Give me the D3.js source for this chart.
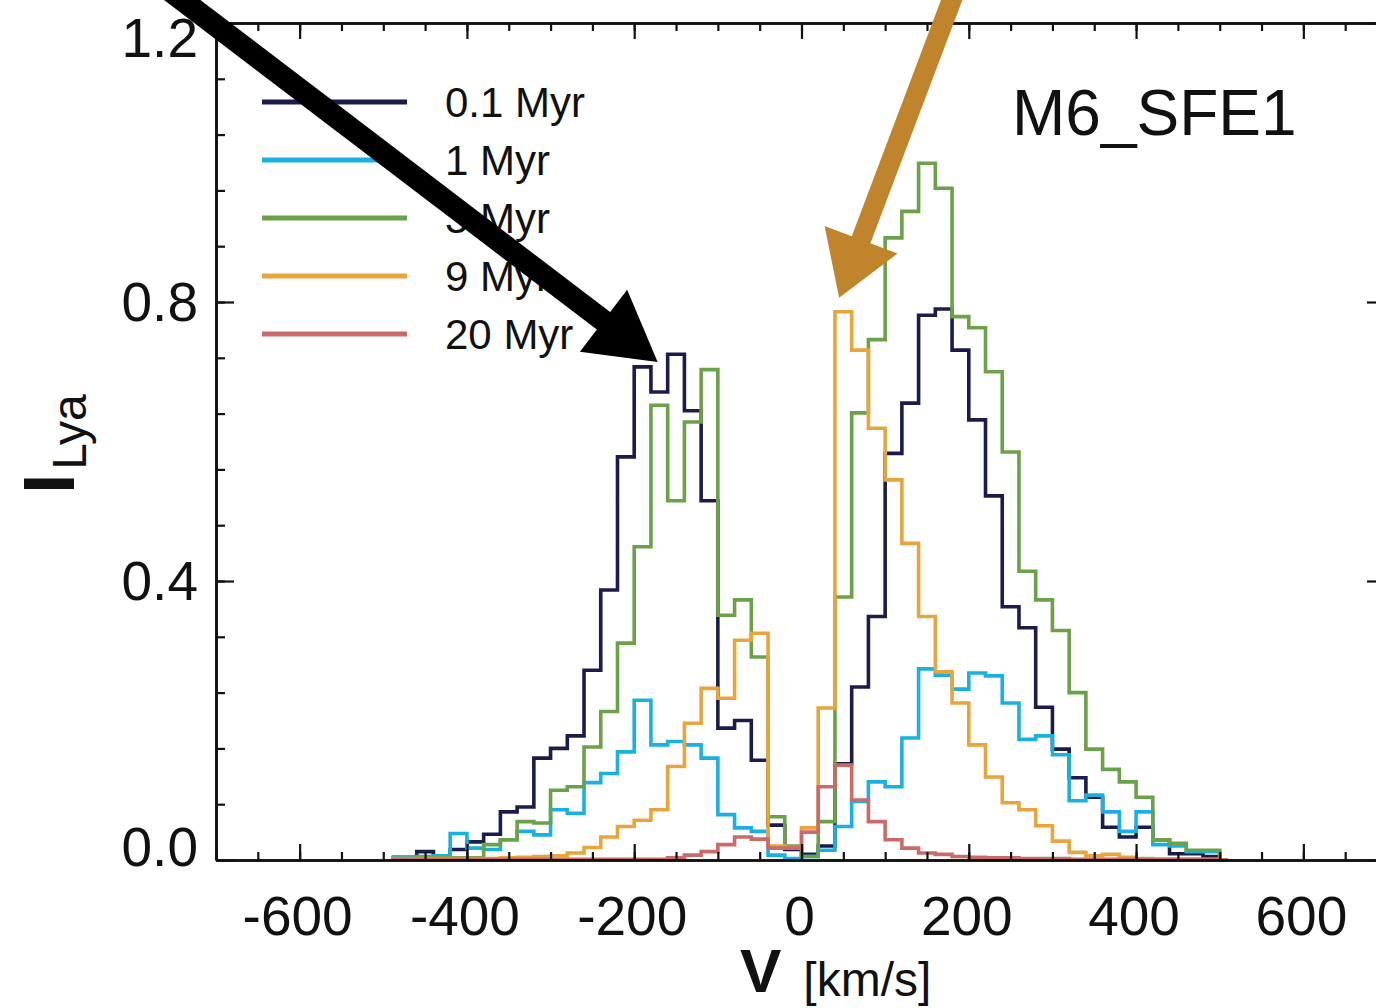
<!DOCTYPE html>
<html><head><meta charset="utf-8">
<script src="https://cdn.jsdelivr.net/npm/d3@7"></script>
<style>body{margin:0;background:#fff;overflow:hidden}</style>
</head><body><svg id="c" width="1376" height="1008"></svg>
<script>
// bin centres (km/s)
const velocity = [-490,-470,-450,-430,-410,-390,-370,-350,-330,-310,-290,-270,-250,-230,-210,-190,-170,-150,-130,-110,-90,-70,-50,-30,-10,10,30,50,70,90,110,130,150,170,190,210,230,250,270,290,310,330,350,370,390,410,430,450,470,490,510];
const i01Myr = [0.004,0.004,0.012,0.006,0.015,0.026,0.037,0.069,0.076,0.146,0.160,0.178,0.272,0.387,0.578,0.707,0.671,0.725,0.644,0.515,0.189,0.200,0.143,0.050,0.015,0.008,0.020,0.138,0.248,0.349,0.583,0.655,0.781,0.790,0.731,0.631,0.522,0.363,0.333,0.219,0.159,0.118,0.090,0.047,0.033,0.047,0.029,0.009,0.009,0.005,0.0];
const i1Myr  = [0.003,0.003,0.005,0.006,0.038,0.017,0.015,0.029,0.041,0.036,0.072,0.067,0.111,0.124,0.155,0.229,0.165,0.170,0.165,0.146,0.065,0.046,0.041,0.007,0.002,0.005,0.014,0.048,0.084,0.112,0.105,0.175,0.274,0.265,0.245,0.268,0.264,0.225,0.173,0.178,0.151,0.085,0.093,0.069,0.041,0.069,0.022,0.020,0.012,0.012,0.0];
const i3Myr  = [0.002,0.002,0.003,0.003,0.003,0.003,0.022,0.029,0.055,0.053,0.100,0.105,0.162,0.213,0.311,0.449,0.652,0.515,0.628,0.703,0.351,0.373,0.291,0.062,0.020,0.005,0.055,0.377,0.641,0.746,0.892,0.930,0.999,0.963,0.779,0.763,0.700,0.585,0.414,0.373,0.329,0.240,0.159,0.130,0.112,0.090,0.029,0.024,0.014,0.014,0.0];
const i9Myr  = [0.002,0.002,0.002,0.002,0.002,0.002,0.002,0.003,0.004,0.005,0.006,0.010,0.018,0.033,0.048,0.057,0.072,0.134,0.196,0.246,0.232,0.315,0.325,0.020,0.018,0.046,0.218,0.786,0.731,0.619,0.545,0.454,0.349,0.270,0.225,0.165,0.119,0.082,0.072,0.049,0.027,0.011,0.006,0.008,0.004,0.002,0.001,0.001,0.001,0.001,0.0];
const i20Myr = [0.001,0.001,0.001,0.001,0.001,0.001,0.001,0.001,0.001,0.001,0.001,0.001,0.001,0.001,0.001,0.001,0.001,0.003,0.007,0.012,0.022,0.033,0.030,0.017,0.017,0.040,0.105,0.136,0.086,0.055,0.029,0.017,0.010,0.008,0.005,0.004,0.003,0.003,0.002,0.002,0.002,0.001,0.001,0.001,0.001,0.001,0.001,0.001,0.001,0.001,0.0];
const seriesLabels = ["0.1 Myr","1 Myr","3 Myr","9 Myr","20 Myr"];
const seriesColors = ["#1c1c4c","#18b1e2","#6ba148","#e9a43c","#cc6a6a"];
const xMajorTicks = [-600,-400,-200,0,200,400,600];
const yMajorTicks = [0.0,0.4,0.8,1.2];
const panelLabel = "M6_SFE1";

const seriesValues = [i01Myr,i1Myr,i3Myr,i9Myr,i20Myr];
const svg = d3.select("#c");
const FONT = "'Liberation Sans', Arial, Helvetica, sans-serif";
const L = 216, R = 1387, T = 23, B = 860;
const x = d3.scaleLinear().domain([-700,700]).range([L,R]);
const y = d3.scaleLinear().domain([0,1.2]).range([B,T]);

// data lines
const line = d3.line().x(d=>x(d[0])).y(d=>y(d[1])).curve(d3.curveStep);
seriesValues.forEach((vals,i)=>{
  svg.append("path").datum(velocity.map((v,j)=>[v,vals[j]]))
    .attr("d",line).attr("fill","none").attr("stroke",seriesColors[i])
    .attr("stroke-width",3.6).attr("stroke-linejoin","miter");
});

// axes
function styleAxis(g){
  g.selectAll(".domain").attr("stroke","#111").attr("stroke-width",2.6);
  g.selectAll(".tick line").attr("stroke","#111").attr("stroke-width",2.2);
  g.selectAll("text").remove();
}
const xMinor = d3.range(-700,701,50), yMinor = d3.range(0,1.2001,0.08);
[[d3.axisBottom(x),`translate(0,${B})`,xMinor,-8],[d3.axisBottom(x),`translate(0,${B})`,xMajorTicks,-16],
 [d3.axisTop(x),`translate(0,${T})`,xMinor,-8],[d3.axisTop(x),`translate(0,${T})`,xMajorTicks,-16],
 [d3.axisLeft(y),`translate(${L},0)`,yMinor,-9],[d3.axisLeft(y),`translate(${L},0)`,yMajorTicks,-18],
 [d3.axisRight(y),`translate(${R},0)`,yMinor,-9],[d3.axisRight(y),`translate(${R},0)`,yMajorTicks,-20]
].forEach(([ax,tr,vals,sz])=>{
  const g = svg.append("g").attr("transform",tr).call(ax.tickValues(vals).tickSize(sz).tickSizeOuter(0));
  styleAxis(g);
});

// tick labels
svg.append("g").selectAll("text").data(xMajorTicks).join("text")
  .attr("x",d=>x(d)-2).attr("y",935).attr("text-anchor","middle")
  .attr("font-family",FONT).attr("font-size",55).attr("fill","#111")
  .text(d=>String(d));
svg.append("g").selectAll("text").data(yMajorTicks).join("text")
  .attr("x",198).attr("y",d=>y(d)+19 + (d===0?-13:0) + (d===1.2?15:0)).attr("text-anchor","end")
  .attr("font-family",FONT).attr("font-size",55).attr("fill","#111")
  .text(d=>d.toFixed(1));

// axis titles
const xt = svg.append("text").attr("x",740).attr("y",992).attr("text-anchor","start")
  .attr("font-family",FONT).attr("fill","#111");
xt.append("tspan").attr("font-size",62).attr("font-weight","bold").text("V");
xt.append("tspan").attr("font-size",48).attr("dx",22).attr("dy",4).text("[km/s]");
const yt = svg.append("text").attr("transform","translate(74,444) rotate(-90)")
  .attr("text-anchor","middle").attr("font-family",FONT).attr("fill","#111");
yt.append("tspan").attr("font-size",72).attr("font-weight","bold").text("I");
yt.append("tspan").attr("font-size",48).attr("dy",12).attr("dx",4).text("Lya");

// panel label
svg.append("text").attr("x",1012).attr("y",135).attr("font-family",FONT)
  .attr("font-size",64).attr("fill","#111").text(panelLabel);

// legend
const lg = svg.append("g");
seriesLabels.forEach((s,i)=>{
  const yy = 102 + i*58;
  lg.append("line").attr("x1",262).attr("x2",407).attr("y1",yy).attr("y2",yy)
    .attr("stroke",seriesColors[i]).attr("stroke-width",5);
  lg.append("text").attr("x",445).attr("y",yy+15).attr("font-family",FONT)
    .attr("font-size",42).attr("fill","#111").text(s);
});

// annotation arrows (defined in data space: tail -> tip)
const arrows = [
  {tail:[-770,1.26], tip:[-172,0.714], color:"#000", width:22, head:68, half:39},
  {tail:[184,1.247], tip:[45,0.806], color:"#c0852c", width:20, head:62, half:39}
];
arrows.forEach(a=>{
  const tx=x(a.tail[0]), ty=y(a.tail[1]), px=x(a.tip[0]), py=y(a.tip[1]);
  const dx=px-tx, dy=py-ty, len=Math.hypot(dx,dy), ux=dx/len, uy=dy/len;
  const bx=px-ux*a.head, by=py-uy*a.head;
  svg.append("line").attr("x1",tx).attr("y1",ty).attr("x2",bx+ux*2).attr("y2",by+uy*2)
    .attr("stroke",a.color).attr("stroke-width",a.width);
  svg.append("path").attr("d",`M${px},${py}L${bx-uy*a.half},${by+ux*a.half}L${bx+uy*a.half},${by-ux*a.half}Z`)
    .attr("fill",a.color);
});
</script></body></html>
